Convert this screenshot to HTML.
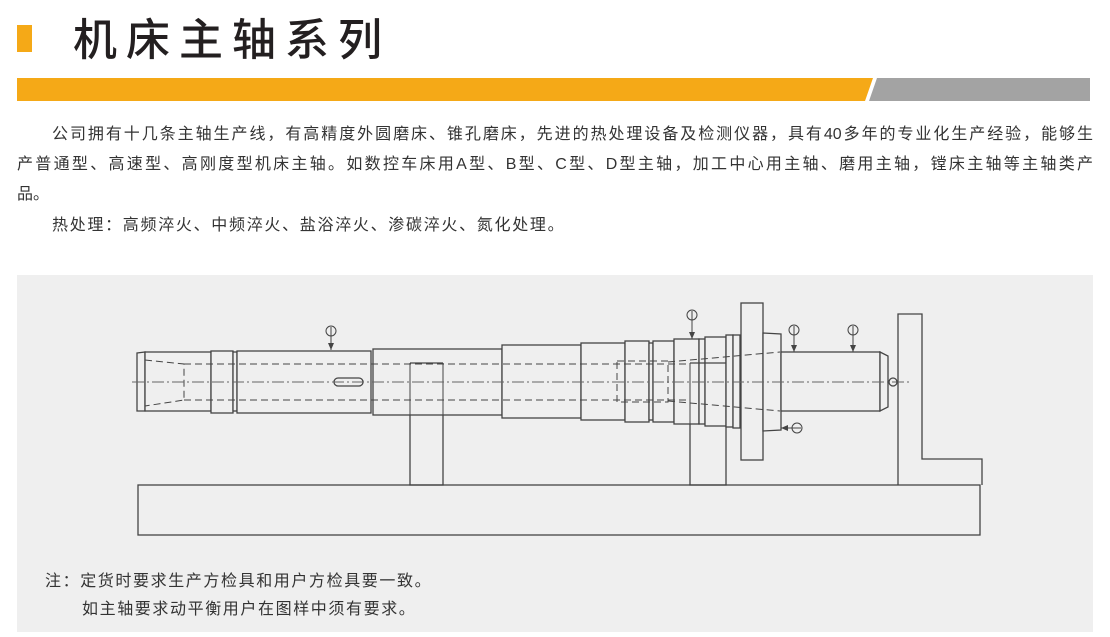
<!DOCTYPE html>
<html><head><meta charset="utf-8"><style>
body{margin:0;width:1110px;height:637px;background:#fff;position:relative;overflow:hidden;font-family:"Liberation Sans","Noto Sans CJK SC",sans-serif;color:#333}
.t{position:absolute;white-space:nowrap}
.j{position:absolute;left:17px;width:1076px;text-align:justify;text-align-last:justify;font-size:16px;white-space:nowrap}
</style></head><body>
<div style="position:absolute;left:17px;top:25px;width:15px;height:27px;background:#f5a917"></div>
<div class="t" style="left:73px;top:4px;font-size:44px;letter-spacing:9px;font-weight:500;color:#231f20;font-family:'Noto Sans CJK SC',sans-serif">机床主轴系列</div>
<svg style="position:absolute;left:0;top:0" width="1110" height="110"><polygon points="17,78 873,78 865,101 17,101" fill="#f5a917"/><polygon points="877,78 1090,78 1090,101 869,101" fill="#a3a3a3"/></svg>
<div class="j" style="left:52px;width:1041px;top:120px">公司拥有十几条主轴生产线，有高精度外圆磨床、锥孔磨床，先进的热处理设备及检测仪器，具有40多年的专业化生产经验，能够生</div>
<div class="j" style="top:150px">产普通型、高速型、高刚度型机床主轴。如数控车床用A型、B型、C型、D型主轴，加工中心用主轴、磨用主轴，镗床主轴等主轴类产</div>
<div class="t" style="left:17px;top:180px;font-size:16px">品。</div>
<div class="t" style="left:52px;top:211px;font-size:16px;letter-spacing:1.7px">热处理：高频淬火、中频淬火、盐浴淬火、渗碳淬火、氮化处理。</div>
<div style="position:absolute;left:17px;top:275px;width:1076px;height:357px;background:#efefef"></div>
<svg style="position:absolute;left:0;top:0" width="1110" height="637" fill="none" stroke="#444" stroke-width="1.3">
<rect x="138" y="485" width="842" height="50"/>
<rect x="410" y="363" width="33" height="122"/>
<rect x="690" y="363" width="36" height="122"/>
<polyline points="898,485 898,314 922,314 922,459 982,459 982,485"/>
<g fill="#efefef">
<polygon points="137,353 145,352 145,411 137,411"/>
<rect x="145" y="352" width="66" height="59"/>
<rect x="211" y="351" width="22" height="62"/>
<rect x="233" y="352" width="4" height="59"/>
<rect x="237" y="351" width="134" height="62"/>
<rect x="373" y="349" width="129" height="66"/>
<rect x="502" y="345" width="79" height="73"/>
<rect x="581" y="343" width="44" height="77"/>
<rect x="625" y="341" width="24" height="81"/>
<rect x="649" y="343" width="4" height="77"/>
<rect x="653" y="341" width="21" height="81"/>
<rect x="674" y="339" width="25" height="85"/>
<rect x="699" y="339" width="6" height="85"/>
<rect x="705" y="337" width="21" height="89"/>
<rect x="726" y="335" width="7" height="92"/>
<rect x="733" y="335" width="7" height="93"/>
<rect x="741" y="303" width="22" height="157"/>
<polygon points="763,333 781,334 781,430 763,431"/>
<rect x="781" y="352" width="99" height="59"/>
<polygon points="880,352 888,356 888,407 880,411"/>
</g>
<rect x="334" y="378" width="29" height="8" rx="4"/>
<g stroke-width="1">
<line x1="410" y1="363" x2="410" y2="415"/><line x1="443" y1="363" x2="443" y2="415"/>
<line x1="690" y1="363" x2="690" y2="424"/><line x1="726" y1="363" x2="726" y2="426"/>
</g>
<g stroke-dasharray="7,4" stroke-width="1">
<line x1="184" y1="364" x2="690" y2="364"/><line x1="184" y1="400" x2="690" y2="400"/>
<polyline points="145,360 184,364 184,400 145,406"/>
<rect x="617" y="361" width="51" height="41"/>
<polyline points="668,362 780,352"/><polyline points="668,401 780,411"/>
</g>
<line x1="410" y1="363" x2="443" y2="363"/><line x1="690" y1="363" x2="726" y2="363"/>
<line x1="132" y1="382" x2="912" y2="382" stroke-dasharray="12,3,2,3" stroke-width="1" stroke="#666"/>
<circle cx="893" cy="382" r="4"/>
<g stroke-width="1">
<circle cx="331" cy="331" r="5"/><line x1="331" y1="327" x2="331" y2="350"/>
<circle cx="692" cy="315" r="5"/><line x1="692" y1="311" x2="692" y2="339"/>
<circle cx="794" cy="330" r="5"/><line x1="794" y1="326" x2="794" y2="352"/>
<circle cx="853" cy="330" r="5"/><line x1="853" y1="326" x2="853" y2="352"/>
<circle cx="797" cy="428" r="5"/><line x1="801" y1="428" x2="781" y2="428"/>
</g>
<g fill="#444" stroke="none">
<polygon points="328,343 334,343 331,350"/><polygon points="689,332 695,332 692,339"/>
<polygon points="791,345 797,345 794,352"/><polygon points="850,345 856,345 853,352"/>
<polygon points="788,425 788,431 781,428"/>
</g>
</svg>
<div class="t" style="left:45px;top:567px;font-size:16px;letter-spacing:1.6px">注：定货时要求生产方检具和用户方检具要一致。</div>
<div class="t" style="left:82px;top:595px;font-size:16px;letter-spacing:1.6px">如主轴要求动平衡用户在图样中须有要求。</div>
</body></html>
